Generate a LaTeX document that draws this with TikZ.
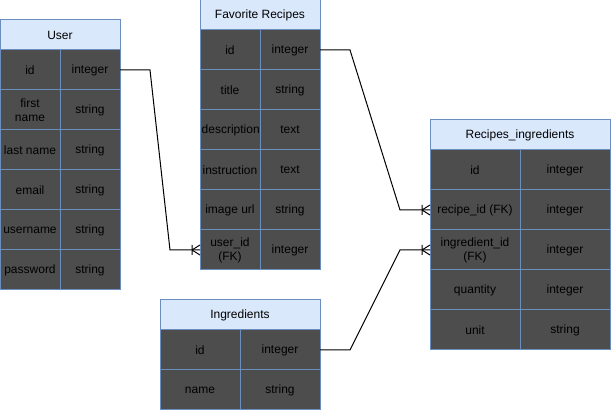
\documentclass[tikz,border=0pt]{standalone}
\usepackage{fontspec}
\setmainfont{Liberation Sans}
\definecolor{bordc}{HTML}{6C8EBF}
\definecolor{hdrc}{HTML}{DAE8FC}
\definecolor{cellc}{HTML}{4D4D4D}
\begin{document}
\begin{tikzpicture}[x=1pt,y=-1pt, font=\fontsize{12}{14}\selectfont,
  base/.style={draw=bordc, line width=1pt, inner sep=0pt, outer sep=0pt, anchor=north west, align=center, text=black},
  hdr/.style={base, fill=hdrc, minimum height=30pt},
  cell/.style={base, fill=cellc, minimum height=40pt},
  conn/.style={draw=black, line width=1pt},
  crowfoot/.pic={\draw[line width=1pt] (-8,-5)--(-8,5) (-8,0)--(0,-5) (-8,0)--(0,5);}]
\useasboundingbox (0,0) rectangle (611,411);

% User
\node[hdr, minimum width=120pt] (user) at (0,20) {User};
\foreach \n/\t [count=\i from 0] in {id/integer, first\\name/string, last name/string, email/string, username/string, password/string}{
  \node[cell, minimum width=60pt] (u-n\i) at (0,{50+40*\i}) {\n};
  \node[cell, minimum width=60pt] (u-t\i) at (60,{50+40*\i}) {\t};
}

% Favorite Recipes
\node[hdr, minimum width=120pt] (fav) at (200,0) {Favorite Recipes};
\foreach \n/\t [count=\i from 0] in {id/integer, title/string, /text, instruction/text, image url/string, user\_id\\(FK)/integer}{
  \node[cell, minimum width=60pt] (f-n\i) at (200,{30+40*\i}) {\n};
  \node[cell, minimum width=60pt] (f-t\i) at (260,{30+40*\i}) {\t};
}
\node[anchor=west, inner sep=0pt] (f-desc) at (201.5,130) {};
\begin{scope}
  \clip (200.5,110.5) rectangle (259.5,149.5);
  \node[anchor=west, inner sep=0pt] at (f-desc.west) {description};
\end{scope}

% Recipes_ingredients
\node[hdr, minimum width=180pt] (ri) at (430,120) {Recipes\_ingredients};
\foreach \n/\t [count=\i from 0] in {id/integer, recipe\_id (FK)/integer, ingredient\_id\\(FK)/integer, quantity/integer, unit/string}{
  \node[cell, minimum width=90pt] (r-n\i) at (430,{150+40*\i}) {\n};
  \node[cell, minimum width=90pt] (r-t\i) at (520,{150+40*\i}) {\t};
}

% Ingredients
\node[hdr, minimum width=160pt] (ing) at (160,300) {Ingredients};
\foreach \n/\t [count=\i from 0] in {id/integer, name/string}{
  \node[cell, minimum width=80pt] (i-n\i) at (160,{330+40*\i}) {\n};
  \node[cell, minimum width=80pt] (i-t\i) at (240,{330+40*\i}) {\t};
}

% Connectors
\draw[conn] (u-t0.east) -- ++(30,0) -- ([xshift=-30pt]f-n5.west) -- (f-n5.west);
\pic at (f-n5.west) {crowfoot};
\draw[conn] (f-t0.east) -- ++(30,0) -- ([xshift=-30pt]r-n1.west) -- (r-n1.west);
\pic at (r-n1.west) {crowfoot};
\draw[conn] (i-t0.east) -- ++(30,0) -- ([xshift=-30pt]r-n2.west) -- (r-n2.west);
\pic at (r-n2.west) {crowfoot};
\end{tikzpicture}
\end{document}
